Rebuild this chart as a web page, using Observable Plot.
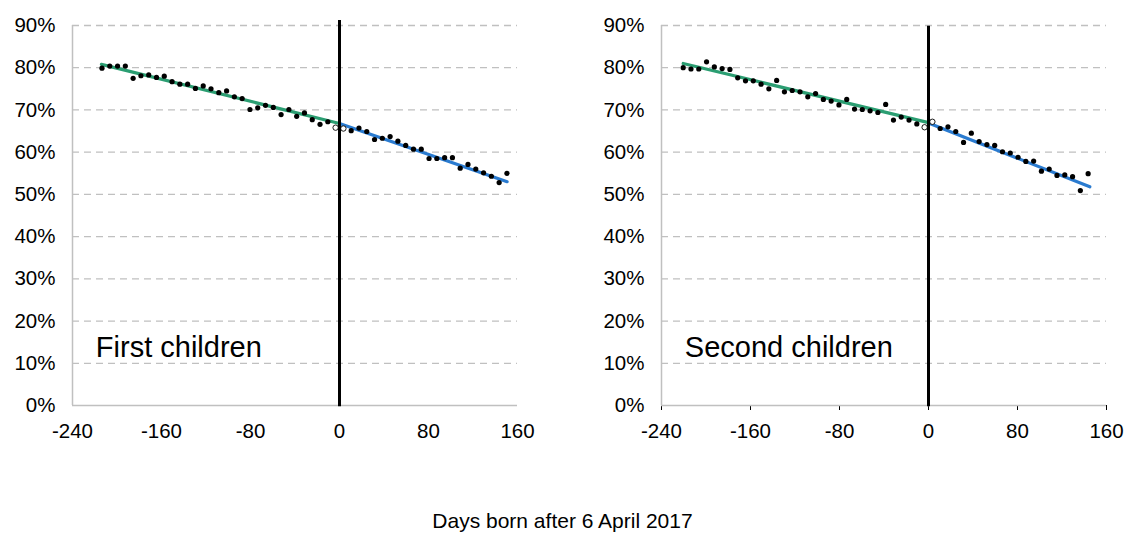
<!DOCTYPE html>
<html>
<head>
<meta charset="utf-8">
<script src="https://cdn.jsdelivr.net/npm/d3@7"></script>
<script src="https://cdn.jsdelivr.net/npm/@observablehq/plot@0.6"></script>
<style>
  html, body { margin: 0; padding: 0; background: #fff; }
  #wrap { position: relative; width: 1125px; height: 534px; font-family: "Liberation Sans", Arial, sans-serif; }
  #left, #right { position: absolute; top: 0; }
  #left { left: 0; }
  #right { left: 562px; }
  #caption { position: absolute; left: 0; width: 1125px; top: 508px; text-align: center; font-size: 21px; line-height: 26px; color: #000; }
</style>
</head>
<body>
<div id="wrap">
  <div id="left"></div>
  <div id="right"></div>
  <div id="caption">Days born after 6 April 2017</div>
</div>
<script>
// ---- Data ----
const xTicks = [-240, -160, -80, 0, 80, 160];
const yTicks = [0, 0.1, 0.2, 0.3, 0.4, 0.5, 0.6, 0.7, 0.8, 0.9];
const panelTitles = ["First children", "Second children"];

// First children: weekly bins (days born after 6 April 2017)
const firstDays = [-213.5, -206.5, -199.5, -192.5, -185.5, -178.5, -171.5, -164.5, -157.5, -150.5,
  -143.5, -136.5, -129.5, -122.5, -115.5, -108.5, -101.5, -94.5, -87.5, -80.5,
  -73.5, -66.5, -59.5, -52.5, -45.5, -38.5, -31.5, -24.5, -17.5, -10.5, -3.5,
  3.5, 10.5, 17.5, 24.5, 31.5, 38.5, 45.5, 52.5, 59.5, 66.5, 73.5,
  80.5, 87.5, 94.5, 101.5, 108.5, 115.5, 122.5, 129.5, 136.5, 143.5, 150.5];
const firstShare = [0.799, 0.804, 0.804, 0.804, 0.775, 0.781, 0.783, 0.777, 0.780, 0.767,
  0.761, 0.761, 0.751, 0.757, 0.750, 0.741, 0.745, 0.731, 0.727, 0.701,
  0.705, 0.711, 0.706, 0.689, 0.701, 0.685, 0.693, 0.677, 0.666, 0.672, 0.658,
  0.656, 0.651, 0.657, 0.649, 0.630, 0.633, 0.637, 0.626, 0.616, 0.607, 0.607,
  0.585, 0.585, 0.587, 0.587, 0.562, 0.571, 0.560, 0.551, 0.543, 0.528, 0.550];
const firstOpen = [false, false, false, false, false, false, false, false, false, false,
  false, false, false, false, false, false, false, false, false, false,
  false, false, false, false, false, false, false, false, false, false, true,
  true, false, false, false, false, false, false, false, false, false, false,
  false, false, false, false, false, false, false, false, false, false, false];
const firstFitBefore = [[-214, 0.808], [0, 0.668]];
const firstFitAfter = [[0, 0.668], [150.7, 0.530]];

// Second children
const secondDays = [-220.5, -213.5, -206.5, -199.5, -192.5, -185.5, -178.5, -171.5, -164.5, -157.5,
  -150.5, -143.5, -136.5, -129.5, -122.5, -115.5, -108.5, -101.5, -94.5, -87.5,
  -80.5, -73.5, -66.5, -59.5, -52.5, -45.5, -38.5, -31.5, -24.5, -17.5, -10.5, -3.5,
  3.5, 10.5, 17.5, 24.5, 31.5, 38.5, 45.5, 52.5, 59.5, 66.5, 73.5,
  80.5, 87.5, 94.5, 101.5, 108.5, 115.5, 122.5, 129.5, 136.5, 143.5];
const secondShare = [0.800, 0.797, 0.797, 0.814, 0.802, 0.798, 0.796, 0.776, 0.769, 0.769,
  0.761, 0.750, 0.770, 0.743, 0.746, 0.743, 0.731, 0.739, 0.725, 0.721,
  0.712, 0.725, 0.702, 0.701, 0.698, 0.694, 0.713, 0.676, 0.683, 0.676, 0.667, 0.659,
  0.672, 0.656, 0.660, 0.649, 0.623, 0.645, 0.625, 0.618, 0.616, 0.601, 0.598,
  0.588, 0.578, 0.579, 0.555, 0.560, 0.545, 0.546, 0.542, 0.509, 0.549];
const secondOpen = [false, false, false, false, false, false, false, false, false, false,
  false, false, false, false, false, false, false, false, false, false,
  false, false, false, false, false, false, false, false, false, false, false, true,
  true, false, false, false, false, false, false, false, false, false, false,
  false, false, false, false, false, false, false, false, false, false, false];
const secondFitBefore = [[-220.5, 0.810], [0, 0.670]];
const secondFitAfter = [[0, 0.669], [145, 0.518]];

const greenColor = "#2b9e72";
const blueColor = "#2a7bd0";
const gridColor = "#c0c0c0";

function panel({days, share, open, fitBefore, fitAfter, title, marginLeft, marginRight, width, tickSize, lineTop}) {
  const pts = days.map((d, i) => ({day: d, share: share[i], open: open[i]}));
  return Plot.plot({
    width, height: 452,
    marginLeft, marginRight, marginTop: 25, marginBottom: 47,
    style: {fontFamily: '"Liberation Sans", Arial, sans-serif', fontSize: "20.5px", color: "#000", background: "#fff", overflow: "visible"},
    x: {domain: [-240, 160], ticks: xTicks, tickFormat: d => String(d), tickSize, tickPadding: tickSize ? 13 : 18, label: null},
    y: {domain: [0, 0.9], ticks: yTicks, tickFormat: d => Math.round(d * 100) + "%", tickSize: 0, tickPadding: 17, label: null},
    marks: [
      Plot.ruleY(yTicks.filter(t => t > 0), {x1: -240, x2: 160, stroke: gridColor, strokeWidth: 1.3, strokeDasharray: "7,5"}),
      Plot.ruleX([-240], {y1: 0, y2: 0.9, stroke: gridColor, strokeWidth: 1.5}),
      Plot.ruleY([0], {x1: -240, x2: 160, stroke: gridColor, strokeWidth: 1.5}),
      Plot.line(fitBefore, {x: d => d[0], y: d => d[1], stroke: greenColor, strokeWidth: 3.2}),
      Plot.line(fitAfter, {x: d => d[0], y: d => d[1], stroke: blueColor, strokeWidth: 3.2}),
      Plot.dot(pts.filter(p => !p.open), {x: "day", y: "share", r: 2.6, fill: "#000", stroke: "none"}),
      Plot.dot(pts.filter(p => p.open), {x: "day", y: "share", r: 2.7, fill: "#fff", stroke: "#000", strokeWidth: 0.9}),
      Plot.ruleX([0], {y1: -0.003, y2: lineTop, stroke: "#000", strokeWidth: 3}),
      Plot.text([title], {x: -219, y: 0.138, text: d => d, textAnchor: "start", lineAnchor: "middle", fontSize: 29, fill: "#000"})
    ]
  });
}

document.getElementById("left").appendChild(panel({
  days: firstDays, share: firstShare, open: firstOpen,
  fitBefore: firstFitBefore, fitAfter: firstFitAfter, title: panelTitles[0],
  width: 562, marginLeft: 72, marginRight: 45, tickSize: 0, lineTop: 0.912
}));
document.getElementById("right").appendChild(panel({
  days: secondDays, share: secondShare, open: secondOpen,
  fitBefore: secondFitBefore, fitAfter: secondFitAfter, title: panelTitles[1],
  width: 563, marginLeft: 99, marginRight: 19, tickSize: 5, lineTop: 0.898
}));
</script>
</body>
</html>
